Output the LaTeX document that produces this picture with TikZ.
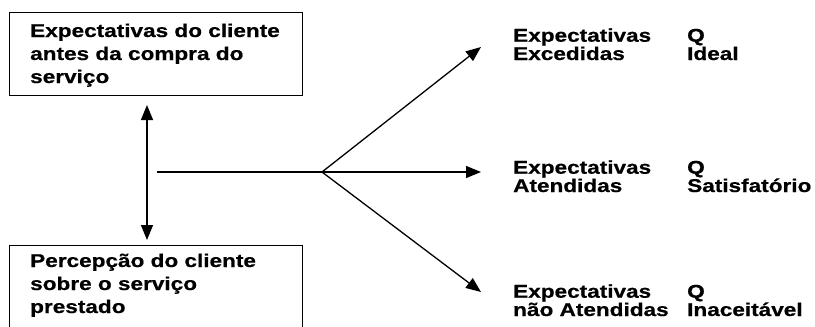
\documentclass[tikz,border=0pt]{standalone}
\usepackage{fontspec}
\newfontfamily\hvb{Liberation Sans Bold}[FakeStretch=1.22,FakeBold=0.6]
\usetikzlibrary{arrows.meta}
\begin{document}
\begin{tikzpicture}[x=1pt,y=-1pt,
  box/.style={draw, line width=1.1pt, anchor=north west, minimum width=293pt, inner sep=0pt},
  txt/.style={anchor=base west, align=left, inner sep=0pt, font=\hvb\fontsize{18.5pt}{23pt}\selectfont},
  lbl/.style={anchor=base west, align=left, inner sep=0pt, font=\hvb\fontsize{18.5pt}{18.3pt}\selectfont},
  conn/.style={line width=1.3pt, -{Triangle[length=15pt,width=12pt]}},
  dbl/.style={line width=1.3pt, {Triangle[length=15pt,width=12pt]}-{Triangle[length=15pt,width=12pt]}}]
\clip (0,0) rectangle (815,327);
\fill[white] (0,0) rectangle (815,327);

% the two boxes on the left (the lower one runs past the bottom edge)
\node[box, minimum height=83pt] (expbox) at (9,12) {};
\node[box, minimum height=95pt] (perbox) at (9,245) {};
% multi-line texts are placed by the baseline of their last line
\node[txt] (exptext) at (30,83) {Expectativas do cliente\\antes da compra do\\serviço};
\node[txt] (pertext) at (30,313) {Percepção do cliente\\sobre o serviço\\prestado};

% comparison arrow between the boxes
\coordinate (cmpA) at (147,105);
\coordinate (cmpB) at (147,240);
\draw[dbl] (cmpA) -- (cmpB);

% fan of outcomes
\coordinate (start) at (157,172);
\coordinate (fork) at (322,172);
\coordinate (tipA) at (481,47);
\coordinate (tipB) at (481,172);
\coordinate (tipC) at (481,292);
\draw[line width=1.3pt] (start) -- (fork);
\draw[conn] (fork) -- (tipA);
\draw[conn] (fork) -- (tipB);
\draw[conn] (fork) -- (tipC);

% outcome labels
\node[lbl] (excA) at (513,60) {Expectativas\\Excedidas};
\node[lbl] (qA) at (687,60) {Q\\Ideal};
\node[lbl] (excB) at (513,192) {Expectativas\\Atendidas};
\node[lbl] (qB) at (687,192) {Q\\Satisfatório};
\node[lbl] (excC) at (513,316) {Expectativas\\não Atendidas};
\node[lbl] (qC) at (687,316) {Q\\Inaceitável};
\end{tikzpicture}
\end{document}
